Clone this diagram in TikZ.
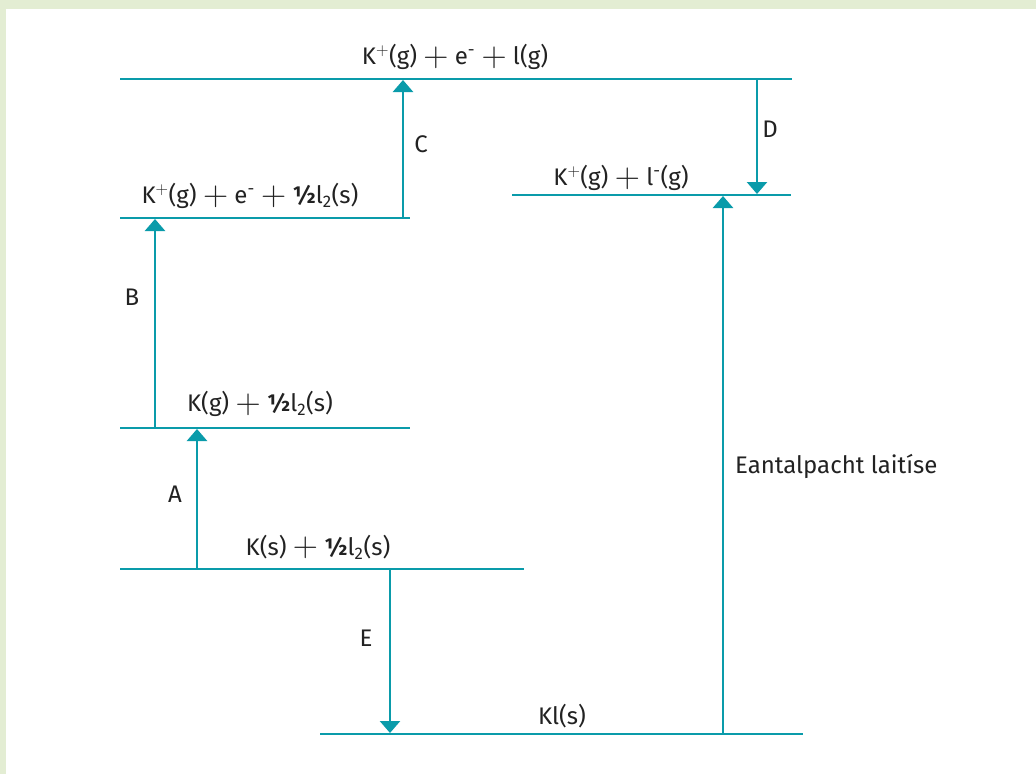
\documentclass[tikz,border=0pt]{standalone}
\usepackage{graphicx}
\usepackage{fontspec}
\setmainfont{Fira Sans}
\usetikzlibrary{arrows.meta}
\definecolor{teal1}{HTML}{0A9BAA}
\definecolor{bordergreen}{HTML}{E3EDD3}
\definecolor{txt}{HTML}{222222}
\newcommand{\half}{\textbf{½}}
\newcommand{\pl}{\ \raisebox{-1.5pt}{\scalebox{1.4}{$+$}}\ }
\newcommand{\supplus}{$^{+}$}
\newcommand{\supminus}{\textsuperscript{-}}
\tikzset{
  level/.style={draw=teal1, line width=2.6pt},
  step arrow/.style={draw=teal1, line width=2.6pt, -{Triangle[width=20pt,length=12pt]}},
  lbl/.style={text=txt, font=\fontsize{24}{26}\selectfont, inner sep=0pt},
}
\begin{document}
\begin{tikzpicture}[x=1pt,y=-1pt]
\useasboundingbox (0,0) rectangle (1036,774);
\fill[bordergreen] (0,0) rectangle (1036,774);
\fill[white] (6,9) rectangle (1036,774);
% level endpoints
\coordinate (L1a) at (120,79);  \coordinate (L1b) at (792,79);
\coordinate (L2a) at (120,218); \coordinate (L2b) at (410,218);
\coordinate (L3a) at (512,195); \coordinate (L3b) at (791,195);
\coordinate (L4a) at (120,428); \coordinate (L4b) at (410,428);
\coordinate (L5a) at (120,569); \coordinate (L5b) at (524,569);
\coordinate (L6a) at (320,734); \coordinate (L6b) at (803,734);
\draw[level] (L1a) -- (L1b);
\draw[level] (L2a) -- (L2b);
\draw[level] (L3a) -- (L3b);
\draw[level] (L4a) -- (L4b);
\draw[level] (L5a) -- (L5b);
\draw[level] (L6a) -- (L6b);
% labels of levels
\node[lbl] (t1) at (455,57) {K\supplus(g)\pl e\supminus\pl l(g)};
\node[lbl] (t2) at (250,196) {K\supplus(g)\pl e\supminus\pl \half l\textsubscript{2}(s)};
\node[lbl] (t3) at (621,178) {K\supplus(g)\pl l\supminus(g)};
\node[lbl] (t4) at (260,404) {K(g)\pl \half l\textsubscript{2}(s)};
\node[lbl] (t5) at (318,547) {K(s)\pl \half l\textsubscript{2}(s)};
\node[lbl] (t6) at (562,716) {Kl(s)};
% arrow end points
\coordinate (A0) at (197,569); \coordinate (A1) at (197,429);
\coordinate (B0) at (155,428); \coordinate (B1) at (155,219);
\coordinate (C0) at (403,218); \coordinate (C1) at (403,80);
\coordinate (D0) at (757,79);  \coordinate (D1) at (757,194);
\coordinate (E0) at (390,569); \coordinate (E1) at (390,733);
\coordinate (F0) at (723,734); \coordinate (F1) at (723,196);
\draw[step arrow] (A0) -- (A1);
\draw[step arrow] (B0) -- (B1);
\draw[step arrow] (C0) -- (C1);
\draw[step arrow] (D0) -- (D1);
\draw[step arrow] (E0) -- (E1);
\draw[step arrow] (F0) -- (F1);
% arrow labels
\node[lbl] (la) at (175,494) {A};
\node[lbl] (lb) at (132,297) {B};
\node[lbl] (lc) at (421,144) {C};
\node[lbl] (ld) at (770,129) {D};
\node[lbl] (le) at (366,638) {E};
\node[lbl, anchor=west] (lf) at (735,466) {Eantalpacht laitíse};
\end{tikzpicture}
\end{document}
